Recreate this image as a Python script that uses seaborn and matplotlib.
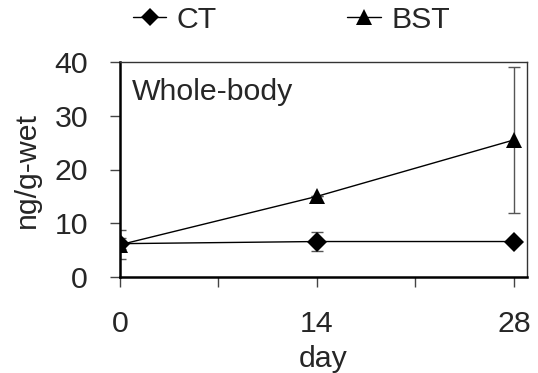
import matplotlib
matplotlib.use("Agg")
import matplotlib.pyplot as plt
from matplotlib.lines import Line2D
import numpy as np
import pandas as pd
import seaborn as sns

# Sampling days and concentrations (ng/g-wet, whole-body)
days = [0, 14, 28]
ct_mean = [6.2, 6.6, 6.6]
ct_err = [1.0, 1.7, 0.0]
bst_mean = [6.0, 15.0, 25.5]
bst_err = [2.7, 0.0, 13.5]
groups = ["CT", "BST"]
y_ticks = [0, 10, 20, 30, 40]
x_major = [0, 14, 28]
x_minor = [7, 21]

sns.set_style("white")
plt.rcParams["font.family"] = ["Liberation Sans", "DejaVu Sans"]
FS = 21.8

df = pd.DataFrame({
    "day": days * 2,
    "value": ct_mean + bst_mean,
    "group": ["CT"] * 3 + ["BST"] * 3,
})

fig = plt.figure(figsize=(5.38, 3.73), dpi=100)
ax = fig.add_axes([120 / 538, 1 - 277 / 373, 407 / 538, 215 / 373])

# error bars underneath the series
ax.errorbar(days, ct_mean, yerr=ct_err, fmt="none", ecolor="#555555",
            elinewidth=1.0, capsize=4, capthick=1.0, zorder=1)
ax.errorbar(days, bst_mean, yerr=bst_err, fmt="none", ecolor="#555555",
            elinewidth=1.0, capsize=4, capthick=1.0, zorder=1)

sns.lineplot(data=df, x="day", y="value", hue="group", style="group",
             hue_order=groups, style_order=groups,
             palette={"CT": "black", "BST": "black"},
             markers={"CT": "D", "BST": "^"}, dashes=False,
             markersize=10, linewidth=1.0, markeredgewidth=0,
             legend=False, ax=ax, zorder=3)
for ln in ax.lines:
    if ln.get_marker() == "^":
        ln.set_markersize(12)

ax.set_xlim(0, 28.93)
ax.set_ylim(0, 40)
ax.set_yticks(y_ticks)
ax.set_xticks(x_major)
ax.set_xticks(x_minor, minor=True)
ax.tick_params(axis="both", which="both", direction="out", length=7, width=1.0,
               color="#444444", labelsize=FS, bottom=True, left=True)
ax.tick_params(axis="x", pad=17)
ax.tick_params(axis="y", pad=16)

for side in ["left", "bottom"]:
    ax.spines[side].set_linewidth(1.8)
    ax.spines[side].set_color("black")
for side in ["top", "right"]:
    ax.spines[side].set_linewidth(1.0)
    ax.spines[side].set_color("#333333")

ax.set_xlabel("day", fontsize=FS, labelpad=5)
ax.set_ylabel("ng/g-wet", fontsize=FS, labelpad=10)

ax.text(0.03, 0.86, "Whole-body", transform=ax.transAxes, fontsize=FS,
        ha="left", va="center")

handles = [
    Line2D([], [], color="black", lw=1.0, marker="D", markersize=9, markeredgewidth=0),
    Line2D([], [], color="black", lw=1.0, marker="^", markersize=11, markeredgewidth=0),
]
fig.legend(handles, groups, loc="center left", bbox_to_anchor=(133 / 538, 1 - 20 / 373),
           ncol=2, frameon=False, fontsize=FS, handlelength=1.1, handletextpad=0.35,
           columnspacing=4.3, borderaxespad=0, borderpad=0)

fig.savefig("out.png", dpi=100)
